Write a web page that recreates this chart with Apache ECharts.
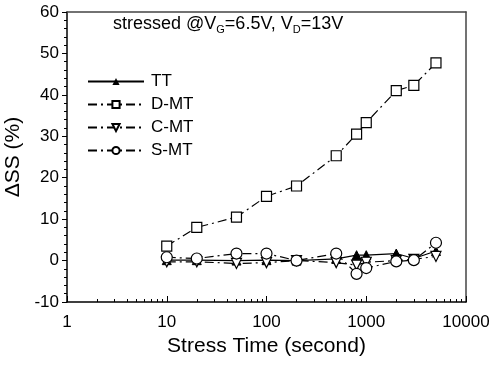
<!DOCTYPE html>
<html>
<head>
<meta charset="utf-8">
<script src="https://cdn.jsdelivr.net/npm/echarts@6/dist/echarts.min.js"></script>
<style>
  html, body { margin: 0; padding: 0; background: #fff; }
  #main { width: 492px; height: 366px; }
</style>
</head>
<body>
<div id="main"></div>
<script>
// stress times (s)
var times = [10, 20, 50, 100, 200, 500, 800, 1000, 2000, 3000, 5000];
// ΔSS (%) per device
var ttVals  = [0.1, 0.1, 0.0, 0.1, 0.0, 0.4, 1.3, 1.3, 1.7, 0.5, 2.3];
var dmtVals = [3.5, 8.0, 10.5, 15.5, 18.0, 25.3, 30.5, 33.3, 41.0, 42.3, 47.7];
var cmtVals = [-0.3, -0.3, -0.7, -0.5, 0.0, -0.5, -1.1, -0.4, 0.0, 0.3, 1.0];
var smtVals = [0.8, 0.5, 1.7, 1.7, 0.0, 1.7, -3.2, -1.8, -0.2, 0.1, 4.3];
// minor tick positions on the log axis
var minorTicks = [];
[1, 10, 100, 1000].forEach(function (d) {
  for (var k = 2; k <= 9; k++) minorTicks.push(d * k);
});

function pairs(vals) {
  return times.map(function (t, i) { return [t, vals[i]]; });
}

var font = 'Liberation Sans, Arial, sans-serif';
var dash = [9, 4, 2, 4];
var tickStyle = { color: '#000', width: 1 };

var chart = echarts.init(document.getElementById('main'));
chart.setOption({
  animation: false,
  backgroundColor: '#fff',
  grid: { left: 67, right: 26, top: 12, bottom: 64, outerBoundsMode: 'none', containLabel: false },
  title: {
    left: 108, top: 9,
    text: 'stressed @V{sub|G}=6.5V, V{sub|D}=13V',
    textStyle: {
      fontFamily: font, fontSize: 18, fontWeight: 'normal', color: '#000',
      rich: { sub: { fontFamily: font, fontSize: 11, verticalAlign: 'bottom', padding: [10, 0, 0, 0], color: '#000' } }
    }
  },
  legend: {
    orient: 'vertical', left: 82, top: 68,
    itemWidth: 56, itemHeight: 9, itemGap: 6,
    textStyle: { fontFamily: font, fontSize: 17, color: '#000', padding: [0, 0, 0, 2] },
    data: ['TT', 'D-MT', 'C-MT', 'S-MT']
  },
  xAxis: [{
    type: 'log', logBase: 10, min: 1, max: 10000,
    name: 'Stress Time (second)', nameLocation: 'middle', nameGap: 34,
    nameTextStyle: { fontFamily: font, fontSize: 21, color: '#000' },
    axisLine: { onZero: false, lineStyle: { color: '#000', width: 1.5 } },
    axisTick: { show: true, inside: true, length: 6, lineStyle: tickStyle },
    axisLabel: { fontFamily: font, fontSize: 17, color: '#000', margin: 12, formatter: function (v) { return String(v); } },
    splitLine: { show: false }
  }, {
    type: 'log', logBase: 10, min: 1, max: 10000, position: 'bottom',
    axisLine: { show: false, onZero: false },
    axisTick: { show: true, inside: true, length: 3, customValues: minorTicks, lineStyle: tickStyle },
    axisLabel: { show: false },
    splitLine: { show: false }
  }, {
    type: 'log', logBase: 10, min: 1, max: 10000, position: 'top',
    axisLine: { show: true, onZero: false, lineStyle: { color: '#444', width: 1.5 } },
    axisTick: { show: false }, axisLabel: { show: false }, splitLine: { show: false }
  }],
  yAxis: [{
    type: 'value', min: -10, max: 60, interval: 10,
    name: 'ΔSS (%)', nameLocation: 'middle', nameGap: 31, nameRotate: 90,
    nameTextStyle: { fontFamily: font, fontSize: 21, color: '#000' },
    axisLine: { show: true, onZero: false, lineStyle: { color: '#000', width: 1.5 } },
    axisTick: { show: true, inside: false, length: 5, lineStyle: tickStyle },
    minorTick: { show: true, splitNumber: 5, length: 3, lineStyle: tickStyle },
    axisLabel: { fontFamily: font, fontSize: 17, color: '#000', margin: 8 },
    splitLine: { show: false }
  }, {
    type: 'value', min: -10, max: 60, interval: 10, position: 'right',
    axisLine: { show: true, onZero: false, lineStyle: { color: '#444', width: 1.5 } },
    axisTick: { show: false }, axisLabel: { show: false }, splitLine: { show: false }
  }],
  series: [{
    name: 'TT', type: 'line', data: pairs(ttVals),
    symbol: 'triangle', symbolSize: 9,
    lineStyle: { color: '#000', width: 1.2 },
    itemStyle: { color: '#000', borderColor: '#000' }
  }, {
    name: 'D-MT', type: 'line', data: pairs(dmtVals),
    symbol: 'rect', symbolSize: 10,
    lineStyle: { color: '#000', width: 1.2, type: dash },
    itemStyle: { color: '#fff', borderColor: '#000', borderWidth: 1.2 }
  }, {
    name: 'C-MT', type: 'line', data: pairs(cmtVals),
    symbol: 'triangle', symbolRotate: 180, symbolSize: 10,
    lineStyle: { color: '#000', width: 1.2, type: dash },
    itemStyle: { color: '#fff', borderColor: '#000', borderWidth: 1.2 }
  }, {
    name: 'S-MT', type: 'line', data: pairs(smtVals),
    symbol: 'circle', symbolSize: 11,
    lineStyle: { color: '#000', width: 1.2, type: dash },
    itemStyle: { color: '#fff', borderColor: '#000', borderWidth: 1.2 }
  }]
});
</script>
</body>
</html>
